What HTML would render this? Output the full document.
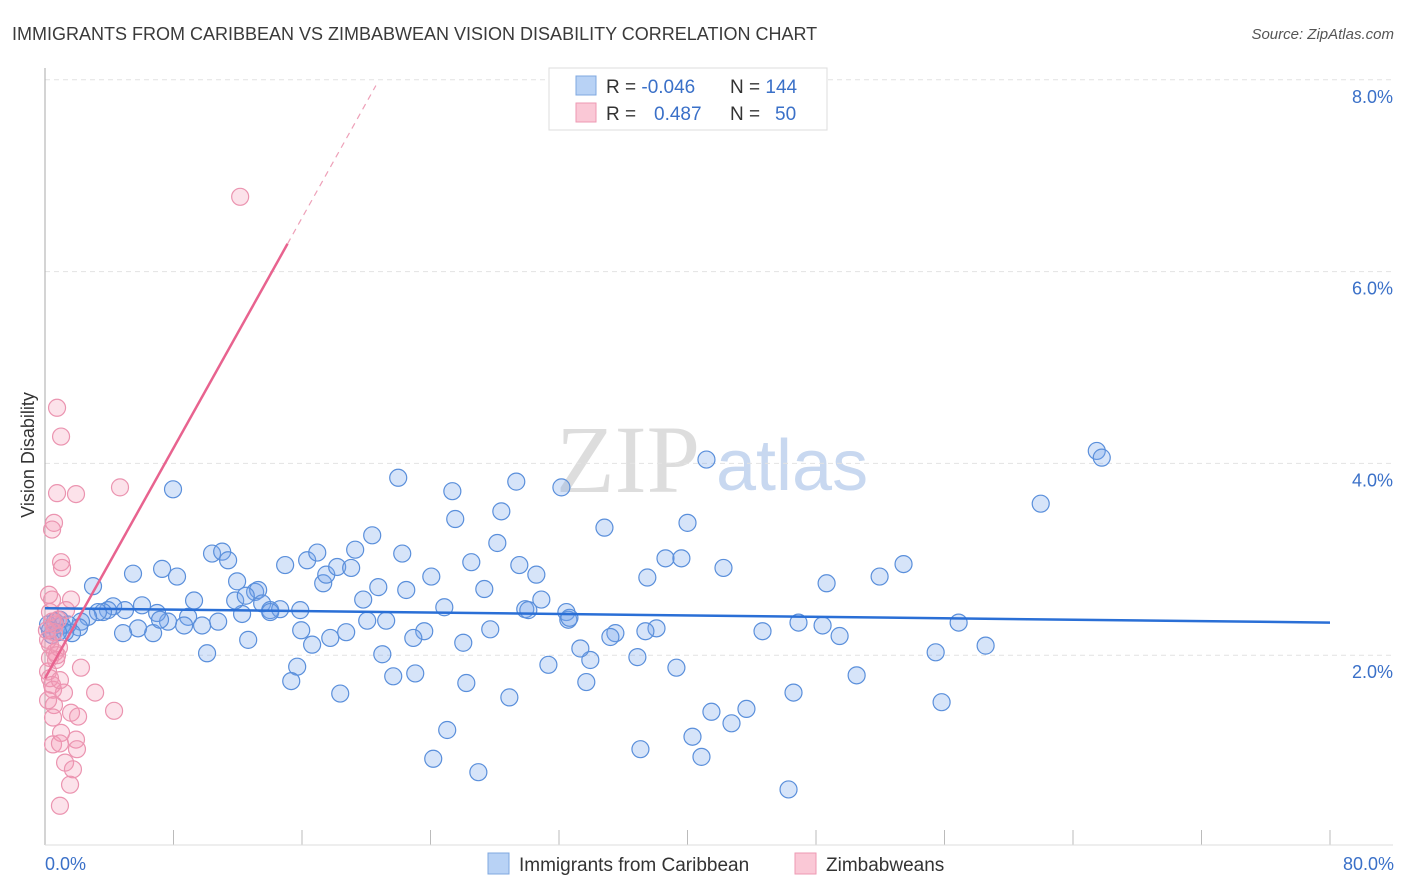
<!DOCTYPE html>
<html><head><meta charset="utf-8"><style>
body{margin:0;background:#fff;font-family:"Liberation Sans",sans-serif}
svg{display:block}
</style></head><body>
<svg width="1406" height="892" xmlns="http://www.w3.org/2000/svg" id="c">
<text x="12" y="40" font-size="18" fill="#3a3a3a">IMMIGRANTS FROM CARIBBEAN VS ZIMBABWEAN VISION DISABILITY CORRELATION CHART</text>
<text x="1394" y="39" font-size="15" fill="#555" font-style="italic" text-anchor="end">Source: ZipAtlas.com</text>
<text x="556" y="492" font-size="96" font-family="Liberation Serif,serif" fill="#ddd">ZIP</text>
<text x="716" y="490" font-size="72" fill="#c8d8f0">atlas</text>
<text transform="translate(34,455) rotate(-90)" font-size="18" fill="#333" text-anchor="middle">Vision Disability</text>
<g id="grid"></g><g id="marks"></g>
<g>
<rect x="549" y="68" width="278" height="62" fill="#fff" stroke="#ddd"/>
<rect x="576" y="76" width="20" height="19" fill="#b8d2f5" stroke="#7fa8e0"/>
<rect x="576" y="103" width="20" height="19" fill="#fac8d6" stroke="#ee99b3"/>
<text x="606" y="93" font-size="19" fill="#333">R = <tspan fill="#3a70c8">-0.046</tspan></text>
<text x="730" y="93" font-size="19" fill="#333">N = <tspan fill="#3a70c8">144</tspan></text>
<text x="606" y="120" font-size="19" fill="#333">R = <tspan fill="#3a70c8" x="654">0.487</tspan></text>
<text x="730" y="120" font-size="19" fill="#333">N = <tspan fill="#3a70c8" x="775">50</tspan></text>
</g>
<g>
<rect x="488" y="853" width="21" height="21" fill="#b8d2f5" stroke="#7fa8e0"/>
<text x="519" y="871" font-size="19" fill="#333">Immigrants from Caribbean</text>
<rect x="795" y="853" width="21" height="21" fill="#fac8d6" stroke="#ee99b3"/>
<text x="826" y="871" font-size="19" fill="#333">Zimbabweans</text>
</g>
<text x="45" y="870" font-size="18" fill="#3a70c8">0.0%</text>
<text x="1394" y="870" font-size="18" fill="#3a70c8" text-anchor="end">80.0%</text>
</svg>
<script>
const blueX=[2.99,5.48,7.29,8.22,7.97,10.40,11.03,11.40,11.96,13.08,13.27,13.52,14.02,14.64,14.95,16.32,16.95,17.32,17.51,18.19,19.06,19.31,20.37,19.81,20.75,21.99,22.24,22.49,24.05,24.86,25.36,25.54,26.54,27.35,28.16,28.41,29.34,29.53,29.90,30.59,30.90,32.15,32.46,32.58,34.83,37.50,38.63,39.62,40.00,41.18,42.24,48.66,51.96,53.45,61.99,65.48,65.79,56.88,58.56,55.45,55.82,50.53,49.47,48.41,46.91,46.60,44.67,43.67,42.74,41.49,40.31,40.87,37.07,39.31,38.07,37.38,36.88,35.51,35.20,33.95,33.33,33.70,31.34,32.65,30.09,28.91,27.72,26.98,26.23,26.04,25.04,24.17,23.61,22.93,23.05,21.68,21.00,21.24,20.06,18.75,18.38,17.76,16.63,15.95,15.70,15.33,12.65,12.27,11.84,10.78,10.09,9.78,9.28,8.91,8.66,7.66,6.98,6.73,6.04,5.79,4.98,4.86,4.24,3.92,3.61,3.30,2.68,2.24,2.12,1.68,1.43,1.06,0.93,0.62,0.44,46.29,14.02,15.89,7.16,0.19,0.31,1.25,0.81,12.5];
const blueY=[2.72,2.85,2.90,2.82,3.73,3.06,3.08,2.99,2.77,2.66,2.68,2.54,2.47,2.48,2.94,2.99,3.07,2.75,2.84,2.92,2.91,3.10,3.25,2.58,2.71,3.85,3.06,2.68,2.82,2.50,3.71,3.42,2.97,2.69,3.17,3.50,3.81,2.94,2.48,2.84,2.58,3.75,2.45,2.37,3.33,2.81,3.01,3.01,3.38,4.04,2.91,2.75,2.82,2.95,3.58,4.13,4.06,2.34,2.10,2.03,1.51,1.79,2.20,2.31,2.34,1.61,2.25,1.44,1.29,1.41,1.15,0.94,1.02,1.87,2.28,2.25,1.98,2.23,2.19,1.95,2.07,1.72,1.90,2.39,2.47,1.56,2.27,0.78,1.71,2.13,1.22,0.92,2.25,2.18,1.81,1.78,2.01,2.36,2.36,2.24,1.60,2.18,2.11,2.26,1.88,1.73,2.16,2.43,2.57,2.35,2.02,2.31,2.57,2.40,2.31,2.35,2.44,2.23,2.52,2.28,2.47,2.23,2.51,2.47,2.45,2.45,2.40,2.35,2.29,2.23,2.32,2.31,2.37,2.35,2.21,0.60,2.45,2.47,2.37,2.32,2.26,2.24,2.24,2.62];
const pinkX=[0.75,1.00,0.75,1.93,4.67,0.56,0.44,1.00,1.06,0.44,1.62,0.44,0.62,0.56,0.62,0.87,0.31,2.24,0.19,0.31,0.44,1.18,3.12,0.56,1.62,2.06,4.30,0.50,1.00,1.93,0.50,0.93,1.99,1.25,1.74,1.56,0.93,12.15,0.19,0.31,0.69,0.12,0.31,0.81,0.50,0.19,0.93,0.75,1.31,0.25];
const pinkY=[4.58,4.28,3.69,3.68,3.75,3.38,3.31,2.97,2.91,2.58,2.58,2.35,2.32,2.24,2.03,2.08,1.97,1.87,1.83,1.76,1.69,1.61,1.61,1.48,1.40,1.36,1.42,1.35,1.19,1.12,1.07,1.08,1.02,0.88,0.81,0.65,0.43,6.78,2.16,2.11,1.95,2.26,2.45,2.37,1.64,1.53,1.74,2.00,2.47,2.63];
const yTicks=[2,4,6,8];
const yTickLabels=["2.0%","4.0%","6.0%","8.0%"];
const xTicks=[0,8,16,24,32,40,48,56,64,72,80];
const blueTrend=[2.49,2.34];
const pinkTrend={intercept:1.76,slope:0.30,solidEnd:15.1,dashEnd:20.6};
const X=v=>45+v*1285/80, Y=v=>847-v*95.9;
const NS="http://www.w3.org/2000/svg";
function mk(t,a,p){const e=document.createElementNS(NS,t);for(const k in a)e.setAttribute(k,a[k]);p.appendChild(e);return e;}
const g=document.getElementById('grid'),m=document.getElementById('marks');
yTicks.forEach((t,i)=>{
 const l=mk('line',{x1:45,x2:1393,y1:Y(t),y2:Y(t),stroke:'#e2e2e2','stroke-dasharray':'5,4'},g);
 
 
 const tx=mk('text',{x:1393,y:Y(t)+23,'font-size':18,fill:'#3a70c8','text-anchor':'end'},g);
 tx.textContent=yTickLabels[i];
 
 
});
xTicks.forEach(t=>{
 const l=mk('line',{x1:X(t),x2:X(t),y1:830,y2:845,stroke:'#bbb'},g);
 
 
});
const ax=mk('line',{x1:45,x2:45,y1:68,y2:845,stroke:'#aaa'},g);


const bx=mk('line',{x1:45,x2:1393,y1:845,y2:845,stroke:'#ddd'},g);


blueX.forEach((x,i)=>{
 const c=mk('circle',{cx:X(x),cy:Y(blueY[i]),r:8.5,fill:'rgba(120,165,235,0.3)',stroke:'#5a8fdb','stroke-width':1.2},m);
 
 
});
pinkX.forEach((x,i)=>{
 const c=mk('circle',{cx:X(x),cy:Y(pinkY[i]),r:8.5,fill:'rgba(245,150,180,0.28)',stroke:'#eb94b0','stroke-width':1.2},m);
 
 
});
const bt=mk('line',{x1:X(0),x2:X(80),y1:Y(blueTrend[0]),y2:Y(blueTrend[1]),stroke:'#2a6fd6','stroke-width':2.5},m);


const pt=pinkTrend, py=x=>pt.intercept+pt.slope*x;
const ps=mk('line',{x1:X(0),x2:X(pt.solidEnd),y1:Y(py(0)),y2:Y(py(pt.solidEnd)),stroke:'#e8638f','stroke-width':2.5},m);


const pd=mk('line',{x1:X(pt.solidEnd),x2:X(pt.dashEnd),y1:Y(py(pt.solidEnd)),y2:Y(py(pt.dashEnd)),stroke:'#eea0b8','stroke-width':1.2,'stroke-dasharray':'6,5'},m);


</script>
</body></html>
